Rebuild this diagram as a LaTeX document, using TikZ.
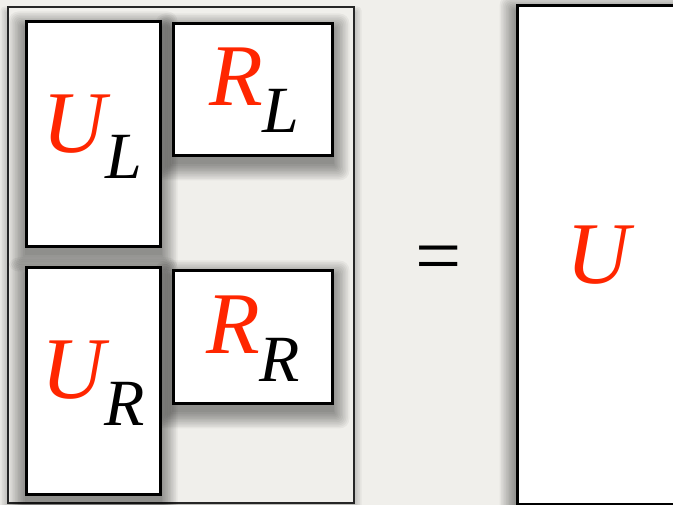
\documentclass[tikz,border=0pt]{standalone}
\usepackage{fontspec}
\setmainfont{Liberation Serif}
\definecolor{paper}{RGB}{240,239,235}
\definecolor{hot}{RGB}{255,38,0}
\pgfdeclarelayer{base}
\pgfdeclarelayer{back}
\pgfdeclarelayer{shade}
\pgfsetlayers{base,back,shade,main}
\tikzset{
  frame/.style={draw=black!85,line width=2.2pt,fill=paper,inner sep=0pt},
  blk/.style={draw,line width=3pt,fill=white,inner sep=0pt},
  sym/.style={anchor=base west,inner sep=0pt,font=\itshape}
}
\newcommand{\mainsz}{\fontsize{88}{88}\selectfont}
\newcommand{\subsz}{\fontsize{66}{66}\selectfont}
\begin{document}
\begin{tikzpicture}[x=1pt,y=-1pt]
\newcommand{\drop}[3]{\begin{pgfonlayer}{#1}\foreach \k in {0,...,#3}
  {\fill[black,opacity=.045,rounded corners=\k pt] ([xshift={-1.6pt*\k},yshift={1.6pt*\k-7pt}]#2.north west) rectangle ([xshift={1.6pt*\k},yshift={-1.6pt*\k-7pt}]#2.south east);}
  \end{pgfonlayer}}
\useasboundingbox (0,0) rectangle (673,505);
\begin{pgfonlayer}{base}
\fill[paper] (0,0) rectangle (673,505);
\end{pgfonlayer}
\begin{pgfonlayer}{back}
\node[frame,minimum width=346pt,minimum height=496pt] (outer) at (181,255) {};
\end{pgfonlayer}
\drop{base}{outer}{4}
\node[blk,minimum width=134pt,minimum height=225pt] (ul) at (93,134.5) {};
\node[blk,minimum width=159pt,minimum height=132pt] (rl) at (252.5,90) {};
\node[blk,minimum width=134pt,minimum height=226pt] (ur) at (93,381) {};
\node[blk,minimum width=159pt,minimum height=133pt] (rr) at (252.5,337.5) {};
\node[blk,minimum width=183pt,minimum height=498pt] (u) at (608.5,255) {};
\drop{shade}{ul}{10}
\drop{shade}{rl}{10}
\drop{shade}{ur}{10}
\drop{shade}{rr}{10}
\drop{shade}{u}{10}
\node[sym] (ul-t) at (42,153) {\mainsz\textcolor{hot}{U}\raisebox{-26pt}{\subsz L}};
\node[sym] (rl-t) at (209,106) {\mainsz\textcolor{hot}{R}\raisebox{-27pt}{\subsz L}};
\node[sym] (ur-t) at (41,399) {\mainsz\textcolor{hot}{U}\raisebox{-27pt}{\subsz R}};
\node[sym] (rr-t) at (206,354) {\mainsz\textcolor{hot}{R}\raisebox{-28pt}{\subsz R}};
\node[font=\fontsize{82}{82}\selectfont,inner sep=0pt] (eq) at (439,265) {=};
\node[sym] (u-t) at (566,284) {\mainsz\textcolor{hot}{U}};
\end{tikzpicture}
\end{document}
